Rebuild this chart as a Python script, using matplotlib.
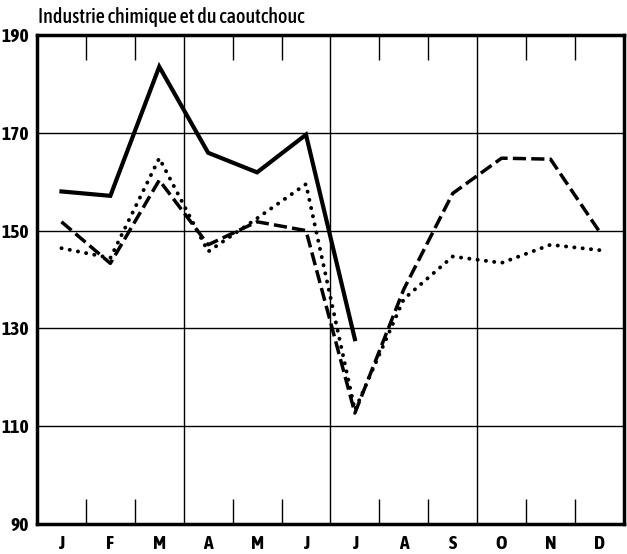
import matplotlib
matplotlib.use("Agg")
import matplotlib.pyplot as plt
from matplotlib import font_manager
from matplotlib.ticker import FixedLocator

months = ['J', 'F', 'M', 'A', 'M', 'J', 'J', 'A', 'S', 'O', 'N', 'D']
solid_vals = [158.0, 157.1, 183.5, 165.9, 161.9, 169.6, 127.8]
dotted_vals = [146.4, 144.4, 164.8, 145.7, 152.5, 159.5, 113.3, 136.0, 144.7, 143.4, 147.1, 146.0]
dashed_vals = [151.8, 143.3, 160.3, 147.1, 151.8, 150.0, 112.7, 138.0, 157.6, 164.8, 164.6, 149.8]
y_ticks = [90, 110, 130, 150, 170, 190]
title = 'Industrie chimique et du caoutchouc'

# look for a condensed / narrow face (bold if there is one)
narrow, narrow_bold = None, None
for f in font_manager.fontManager.ttflist:
    if 'Narrow' in f.name or 'Condensed' in f.name:
        if narrow is None:
            narrow = f.name
        w = f.weight if isinstance(f.weight, int) else 700 if 'bold' in str(f.weight).lower() else 400
        if w >= 600 and narrow_bold is None:
            narrow_bold = f.name
bold_fam = [narrow_bold or narrow or 'DejaVu Sans', 'DejaVu Sans']

fig = plt.figure(figsize=(6.27, 5.54), dpi=100)
ax = fig.add_axes([0.059, 0.054, 0.936, 0.883])

x_solid = [i + 0.5 for i in range(len(solid_vals))]
x_all = [i + 0.5 for i in range(12)]

ax.plot(x_solid, solid_vals, color='black', lw=3.0, solid_joinstyle='miter', zorder=3)
ax.plot(x_all, dashed_vals, color='black', lw=2.5, linestyle=(0, (3.8, 1.5)), zorder=3)
ax.plot(x_all, dotted_vals, color='black', lw=2.8, linestyle=(0, (0.05, 2.1)),
        dash_capstyle='round', zorder=3)

ax.set_xlim(0, 12)
ax.set_ylim(90, 190)

# grid: horizontal at each y tick, vertical at quarter boundaries
for v in y_ticks[1:-1]:
    ax.axhline(v, color='black', lw=1.0, zorder=1)
for q in [3, 6, 9]:
    ax.axvline(q, color='black', lw=1.0, zorder=1)

ax.set_xticks(x_all)
ax.set_xticklabels(months, fontsize=14, fontweight='bold', family=bold_fam)
ax.xaxis.set_minor_locator(FixedLocator([1, 2, 4, 5, 7, 8, 10, 11]))
ax.tick_params(axis='x', which='major', length=0, pad=8)
ax.tick_params(axis='x', which='minor', direction='in', length=18, width=1.0,
               top=True, bottom=True)

ax.set_yticks(y_ticks)
ax.set_yticklabels([str(v) for v in y_ticks], fontsize=14, fontweight='bold',
                   family=bold_fam)
ax.tick_params(axis='y', which='major', length=0, pad=6)

for s in ax.spines.values():
    s.set_linewidth(2.5)

fig.text(0.061, 0.958, title, fontsize=14.5, ha='left', va='baseline',
         fontweight='medium', family=bold_fam)

fig.savefig('out.png', dpi=100)
